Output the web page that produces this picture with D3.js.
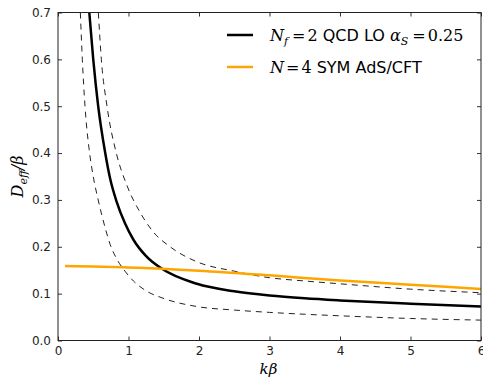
<!DOCTYPE html>
<html>
<head>
<meta charset="utf-8">
<script src="https://cdn.jsdelivr.net/npm/d3@7/dist/d3.min.js"></script>
<style>
  html, body { margin: 0; padding: 0; background: #fff; }
  svg { display: block; }
  .tick text { font-family: 'DejaVu Sans', sans-serif; font-size: 12px; fill: #222; }
</style>
</head>
<body>
<svg id="chart" width="483" height="377"></svg>
<script>
// values
const qcdX     = [0.444, 0.50, 0.57, 0.67, 0.74, 0.83, 0.95, 1.07, 1.25, 1.475, 1.97, 2.5, 3.0, 3.5, 4.0, 5.0, 6.0];
const qcdY     = [0.70, 0.60, 0.50, 0.40, 0.345, 0.297, 0.25, 0.215, 0.18, 0.153, 0.121, 0.105, 0.096, 0.090, 0.0855, 0.0785, 0.0727];
const qcdLowX  = [0.317, 0.345, 0.383, 0.44, 0.50, 0.57, 0.67, 0.74, 0.83, 0.95, 1.07, 1.25, 1.475, 1.97, 2.5, 3.0, 3.5, 4.0, 5.0, 6.0];
const qcdLowY  = [0.70, 0.60, 0.50, 0.41, 0.35, 0.30, 0.24, 0.205, 0.175, 0.148, 0.127, 0.106, 0.091, 0.0725, 0.065, 0.060, 0.056, 0.0527, 0.047, 0.0435];
const qcdHighX = [0.572, 0.615, 0.695, 0.827, 0.98, 1.17, 1.35, 1.59, 1.97, 2.5, 3.0, 3.5, 4.0, 5.0, 6.0];
const qcdHighY = [0.70, 0.60, 0.50, 0.40, 0.33, 0.272, 0.232, 0.20, 0.168, 0.148, 0.134, 0.127, 0.121, 0.1096, 0.102];
const adsX     = [0.1, 1.0, 2.0, 3.0, 4.0, 5.0, 6.0];
const adsY     = [0.159, 0.156, 0.149, 0.139, 0.128, 0.119, 0.110];
const xTicks   = [0, 1, 2, 3, 4, 5, 6];
const yTicks   = [0, 0.1, 0.2, 0.3, 0.4, 0.5, 0.6, 0.7];

const width = 483, height = 377;
const margin = { top: 12.5, right: 2, bottom: 36.5, left: 58 };
const innerW = width - margin.left - margin.right;
const innerH = height - margin.top - margin.bottom;

const svg = d3.select('#chart');
const g = svg.append('g').attr('transform', `translate(${margin.left},${margin.top})`);

const x = d3.scaleLinear().domain([0, 6]).range([0, innerW]);
const y = d3.scaleLinear().domain([0, 0.7]).range([innerH, 0]);

svg.append('defs').append('clipPath').attr('id', 'plot-clip')
  .append('rect').attr('width', innerW).attr('height', innerH);

const pairs = (xs, ys) => xs.map((v, i) => [v, ys[i]]);
const line = d3.line().x(d => x(d[0])).y(d => y(d[1])).curve(d3.curveMonotoneX);

const plot = g.append('g').attr('clip-path', 'url(#plot-clip)');

plot.append('path').datum(pairs(qcdLowX, qcdLowY))
  .attr('d', line).attr('fill', 'none').attr('stroke', '#222')
  .attr('stroke-width', 1).attr('stroke-dasharray', '6,5');
plot.append('path').datum(pairs(qcdHighX, qcdHighY))
  .attr('d', line).attr('fill', 'none').attr('stroke', '#222')
  .attr('stroke-width', 1).attr('stroke-dasharray', '6,5');
plot.append('path').datum(pairs(qcdX, qcdY))
  .attr('d', line).attr('fill', 'none').attr('stroke', '#000')
  .attr('stroke-width', 2.5);
plot.append('path').datum(pairs(adsX, adsY))
  .attr('d', line).attr('fill', 'none').attr('stroke', '#FFA500')
  .attr('stroke-width', 2.5);

// axes: ticks point inward, mirrored on top/right
const tickLen = 4;
g.append('g').attr('transform', `translate(0,${innerH})`)
  .call(d3.axisBottom(x).tickValues(xTicks).tickFormat(d3.format('d')).tickSizeInner(-tickLen).tickSizeOuter(0).tickPadding(6))
  .call(a => a.select('.domain').remove());
g.append('g')
  .call(d3.axisLeft(y).tickValues(yTicks).tickFormat(d3.format('.1f')).tickSizeInner(-tickLen).tickSizeOuter(0).tickPadding(7))
  .call(a => a.select('.domain').remove());
g.append('g')
  .call(d3.axisTop(x).tickValues(xTicks).tickFormat('').tickSizeInner(-tickLen).tickSizeOuter(0))
  .call(a => a.select('.domain').remove());
g.append('g').attr('transform', `translate(${innerW},0)`)
  .call(d3.axisRight(y).tickValues(yTicks).tickFormat('').tickSizeInner(-tickLen).tickSizeOuter(0))
  .call(a => a.select('.domain').remove());
g.selectAll('.tick line').attr('stroke', '#333');

g.append('rect').attr('width', innerW).attr('height', innerH)
  .attr('fill', 'none').attr('stroke', '#222').attr('stroke-width', 1);

// axis labels
const mathFont = "'DejaVu Serif', serif";
svg.append('text')
  .attr('x', margin.left + x(3) - 1).attr('y', 373.5)
  .attr('text-anchor', 'middle')
  .style('font-family', mathFont).style('font-style', 'italic').style('font-size', '15px')
  .text('kβ');

const yl = svg.append('text')
  .attr('transform', `translate(23,${margin.top + innerH / 2}) rotate(-90)`)
  .attr('text-anchor', 'middle')
  .style('font-family', mathFont).style('font-style', 'italic').style('font-size', '16px');
yl.append('tspan').text('D');
yl.append('tspan').attr('dy', 4).style('font-size', '11px').text('eff');
yl.append('tspan').attr('dy', -4).text('/β');

// legend
const legend = svg.append('g').attr('transform', 'translate(227,0)');
const legendRows = [
  { color: '#000', y: 35 },
  { color: '#FFA500', y: 67 }
];
legend.selectAll('line').data(legendRows).join('line')
  .attr('x1', 0).attr('x2', 26)
  .attr('y1', d => d.y).attr('y2', d => d.y)
  .attr('stroke', d => d.color).attr('stroke-width', 2.5);

const sans = "'DejaVu Sans', sans-serif";
const t1 = legend.append('text').attr('x', 43).attr('y', 41).style('font-size', '16px');
t1.append('tspan').style('font-family', mathFont).style('font-style', 'italic').text('N');
t1.append('tspan').attr('dy', 4).style('font-family', mathFont).style('font-style', 'italic').style('font-size', '11px').text('f');
t1.append('tspan').attr('dy', -4).attr('dx', 4).style('font-family', mathFont).text('=');
t1.append('tspan').attr('dx', 2).style('font-family', mathFont).text('2');
t1.append('tspan').style('font-family', sans).text(' QCD LO ');
t1.append('tspan').style('font-family', mathFont).style('font-style', 'italic').text('α');
t1.append('tspan').attr('dy', 4).style('font-family', mathFont).style('font-style', 'italic').style('font-size', '11px').text('S');
t1.append('tspan').attr('dy', -4).attr('dx', 4).style('font-family', mathFont).text('=');
t1.append('tspan').attr('dx', 2).style('font-family', mathFont).text('0.25');

const t2 = legend.append('text').attr('x', 43).attr('y', 73).style('font-size', '16px');
t2.append('tspan').style('font-family', mathFont).style('font-style', 'italic').text('N');
t2.append('tspan').attr('dx', 2).style('font-family', mathFont).text('=');
t2.append('tspan').attr('dx', 2).style('font-family', mathFont).text('4');
t2.append('tspan').style('font-family', sans).text(' SYM AdS/CFT');
</script>
</body>
</html>
